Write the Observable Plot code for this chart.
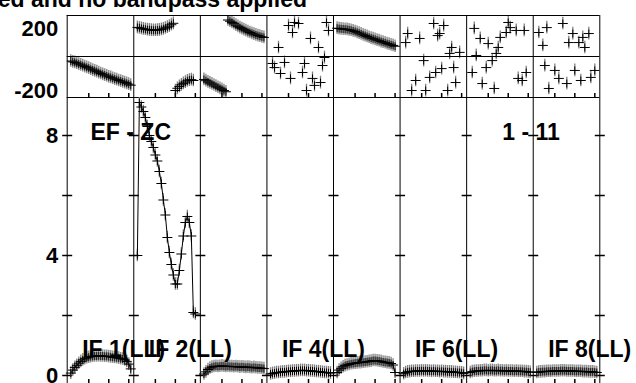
<!DOCTYPE html>
<html><head><meta charset="utf-8">
<script src="https://cdn.jsdelivr.net/npm/d3@7"></script>
<script src="https://cdn.jsdelivr.net/npm/@observablehq/plot@0.6"></script>
<style>
html,body{margin:0;padding:0;background:#fff;}
#chart{position:relative;width:636px;height:383px;overflow:hidden;font-family:"Liberation Sans",Arial,sans-serif;}
#title{position:absolute;right:329px;top:-12px;font-size:23px;font-weight:bold;line-height:22px;white-space:nowrap;color:#000;}
#chart svg{position:absolute;left:0;}
</style></head><body>
<div id="chart"><div id="title">Data calibrated and no bandpass applied</div></div>
<script>
// ---------- data ----------
const ifNumbers = [1, 2, 3, 4, 5, 6, 7, 8];
const labeledIFs = [1, 2, 4, 6, 8];
const baselineLabel = "EF - ZC";
const timeLabel = "1 - 11";
const phaseTickLabels = [200, -200];
const ampTickLabels = [8, 4, 0];
const ampMinorTicks = [0, 2, 4, 6, 8];
const chanTicks = [10, 20, 30];

// phase (degrees), dense panels: channel 1..n
const phase1 = [-22,-26,-29,-33,-37,-41,-45,-49,-53,-57,-62,-66,-70,-74,-79,-83,-87,-91,-95,-99,-102,-106,-110,-113,-117,-120,-124,-127,-131,-135,-140];
const phase2 = [142,140,137,135,133,131,130,129,128,128,129,130,132,135,139,143,148,155,162,-166,-155,-146,-138,-131,-125,-119,-115,-113,-117];
const phase3 = [-112,-118,-124,-129,-134,-139,-145,-150,-155,-160,-166,-172,178,172,166,160,153,147,141,136,131,126,121,117,113,109,105,102,99,96,93];
const phase5 = [138,136,135,134,133,132,130,128,125,122,118,114,110,106,102,98,94,90,87,84,80,77,73,70,67,63,60,57,54,50];
// phase, sparse panels: [channel, degrees]
const phase4 = [[2,-34],[3,-54],[5,44],[6,-83],[8,-29],[10,151],[11,-107],[12,117],[13,166],[15,161],[17,-78],[18,-34],[19,-166],[21,88],[22,-107],[23,-141],[25,44],[26,-127],[27,-44],[28,-5],[29,166],[30,127]];
const phase6 = [[2,68],[3,112],[5,-166],[7,-117],[9,88],[11,-20],[12,-166],[14,-102],[16,161],[17,-78],[18,102],[19,112],[20,-59],[21,151],[23,-166],[24,15],[25,44],[26,-54],[27,-127],[29,20]];
const phase7 = [[2,-78],[3,137],[4,5],[6,88],[7,-132],[9,-54],[10,63],[12,-20],[13,-156],[14,15],[15,44],[16,93],[19,117],[20,166],[21,141],[24,127],[25,-107],[27,-117],[28,127],[29,-78]];
const phase8 = [[2,117],[4,54],[5,-44],[6,141],[7,-156],[10,-68],[12,-107],[14,161],[16,-132],[17,68],[19,112],[20,-68],[22,68],[23,-117],[24,93],[25,44],[27,112],[28,-102],[30,-68]];

// amplitude, channel 1..n
const amp1 = [0.08,0.18,0.27,0.34,0.41,0.47,0.52,0.56,0.59,0.61,0.63,0.64,0.65,0.65,0.66,0.65,0.65,0.64,0.64,0.63,0.62,0.61,0.6,0.59,0.58,0.56,0.55,0.52,0.47,0.38,0.22];
const amp2 = [4.0,9.1,8.95,8.8,8.6,8.3,8.0,7.8,7.6,7.35,7.15,6.8,6.4,5.85,5.35,4.6,4.1,3.7,3.35,3.05,3.05,3.5,4.05,4.65,5.1,5.3,5.1,4.65,2.1,2.05];
const amp3 = [0.05,0.12,0.2,0.25,0.28,0.3,0.31,0.3,0.31,0.32,0.31,0.3,0.31,0.3,0.3,0.29,0.3,0.29,0.28,0.29,0.28,0.27,0.28,0.27,0.26,0.27,0.26,0.25,0.25,0.24,0.23];
const amp4 = [0.05,0.07,0.08,0.1,0.1,0.11,0.12,0.12,0.13,0.14,0.14,0.15,0.15,0.16,0.16,0.17,0.17,0.17,0.16,0.16,0.15,0.15,0.14,0.13,0.13,0.12,0.11,0.1,0.1,0.09,0.08];
const amp5 = [0.1,0.18,0.24,0.29,0.33,0.35,0.37,0.39,0.4,0.41,0.42,0.43,0.43,0.44,0.45,0.46,0.47,0.48,0.5,0.5,0.49,0.48,0.47,0.45,0.44,0.43,0.42,0.4,0.35,0.1];
const amp6 = [0.06,0.1,0.12,0.13,0.14,0.14,0.15,0.15,0.15,0.16,0.15,0.16,0.15,0.15,0.14,0.15,0.14,0.14,0.13,0.14,0.13,0.13,0.12,0.12,0.12,0.11,0.11,0.1,0.1,0.09,0.07];
const amp7 = [0.1,0.13,0.14,0.15,0.15,0.16,0.16,0.17,0.17,0.16,0.17,0.17,0.16,0.16,0.17,0.16,0.16,0.15,0.16,0.15,0.15,0.15,0.14,0.15,0.14,0.14,0.14,0.13,0.13,0.12,0.11];
const amp8 = [0.1,0.12,0.12,0.13,0.13,0.14,0.14,0.14,0.15,0.15,0.15,0.15,0.16,0.16,0.16,0.15,0.15,0.15,0.15,0.14,0.14,0.14,0.14,0.13,0.13,0.13,0.12,0.12,0.12,0.11,0.1];

// ---------- assemble ----------
const PANEL = 33.3;   // panel width in channel units
const CH_OFF = 0.8;
const gx = (n, ch) => (n - 1) * PANEL + CH_OFF + ch;

const denseRows = (n, arr) => arr.map((v, i) => ({if: n, ch: i + 1, v}));
const sparseRows = (n, arr) => arr.map(([ch, v]) => ({if: n, ch, v}));

const phasePts = [
  ...denseRows(1, phase1), ...denseRows(2, phase2), ...denseRows(3, phase3),
  ...sparseRows(4, phase4), ...denseRows(5, phase5), ...sparseRows(6, phase6),
  ...sparseRows(7, phase7), ...sparseRows(8, phase8)
];
const ampPts = [amp1, amp2, amp3, amp4, amp5, amp6, amp7, amp8].flatMap((a, i) => denseRows(i + 1, a));

const PH_ERR = 31, AMP_ERR = 0.21;
const boundaries = d3.range(0, 9).map(i => i * PANEL);
const chanTickX = ifNumbers.flatMap(n => chanTicks.map(c => gx(n, c)));
const ampTickGrid = boundaries.flatMap(b => ampMinorTicks.map(t => ({b, t})));

// custom symbols
const plusSym = {draw(ctx, size) { const r = Math.sqrt(size / Math.PI); ctx.moveTo(-r, 0); ctx.lineTo(r, 0); ctx.moveTo(0, -0.8 * r); ctx.lineTo(0, 0.8 * r); }};
const upTick = {draw(ctx, size) { const r = Math.sqrt(size / Math.PI); ctx.moveTo(0, 0); ctx.lineTo(0, -r); }};
const hTick = {draw(ctx, size) { const r = Math.sqrt(size / Math.PI); ctx.moveTo(-r, 0); ctx.lineTo(r, 0); }};

const W = 636, ML = 66.7, MR = 36.7;
const FONT = "Liberation Sans, Arial, Helvetica, sans-serif";
const baseStyle = {background: "transparent", overflow: "visible", fontFamily: FONT, color: "black"};
const xOpt = {domain: [0, 8 * PANEL], axis: null};

const phasePlot = Plot.plot({
  width: W, height: 100, marginTop: 15, marginBottom: 3, marginLeft: ML, marginRight: MR,
  x: xOpt, y: {domain: [-200, 200], axis: null},
  style: baseStyle,
  marks: [
    Plot.ruleX(phasePts, {x: d => gx(d.if, d.ch), y1: d => d.v - PH_ERR, y2: d => d.v + PH_ERR, stroke: "#808080", strokeWidth: 1.3, clip: true}),
    Plot.dot(phasePts, {x: d => gx(d.if, d.ch), y: "v", symbol: plusSym, r: 5, stroke: "black", fill: "none", strokeWidth: 1, clip: true}),
    Plot.ruleY([200, 0, -200], {stroke: "black", strokeWidth: 1}),
    Plot.ruleX(boundaries, {stroke: "black", strokeWidth: 1}),
    Plot.dot(chanTickX, {x: d => d, y: () => -200, symbol: upTick, r: 4.5, stroke: "black", fill: "none"}),
    Plot.text([String(phaseTickLabels[0])], {text: d => d, frameAnchor: "top-left", dx: -9, dy: 4.5, textAnchor: "end", fontSize: 22, fontWeight: "bold", fill: "black"}),
    Plot.text([String(phaseTickLabels[1])], {text: d => d, frameAnchor: "bottom-left", dx: -9, dy: 0, textAnchor: "end", fontSize: 22, fontWeight: "bold", fill: "black"})
  ]
});

const ampPlot = Plot.plot({
  width: W, height: 300, marginTop: 7, marginBottom: 6, marginLeft: ML, marginRight: MR,
  x: xOpt, y: {domain: [-0.3, 9.267], axis: null},
  style: baseStyle,
  marks: [
    Plot.ruleX(boundaries, {stroke: "black", strokeWidth: 1}),
    Plot.dot(ampTickGrid, {x: "b", y: "t", symbol: hTick, r: 5, stroke: "black", fill: "none"}),
    Plot.dot(chanTickX, {x: d => d, y: () => -0.3, symbol: upTick, r: 5.5, stroke: "black", fill: "none"}),
    Plot.ruleX(ampPts, {x: d => gx(d.if, d.ch), y1: d => d.v - AMP_ERR, y2: d => d.v + AMP_ERR, stroke: "#808080", strokeWidth: 1.3, clip: true}),
    Plot.line(ampPts, {x: d => gx(d.if, d.ch), y: "v", z: "if", stroke: "black", strokeWidth: 1}),
    Plot.dot(ampPts, {x: d => gx(d.if, d.ch), y: "v", symbol: plusSym, r: 5, stroke: "black", fill: "none", strokeWidth: 1}),
    Plot.text(ampTickLabels, {y: d => d, text: d => String(d), frameAnchor: "left", dx: -9, textAnchor: "end", fontSize: 22, fontWeight: "bold", fill: "black"}),
    Plot.text(labeledIFs, {x: n => (n - 1) * PANEL, text: n => `IF ${n}(LL)`, frameAnchor: "bottom", dx: 15, dy: -27.3, textAnchor: "start", fontSize: 23, fontWeight: "bold", fill: "black"}),
    Plot.text([baselineLabel], {text: d => d, frameAnchor: "top-left", dx: 23.3, dy: 26.6, textAnchor: "start", fontSize: 23, fontWeight: "bold", fill: "black"}),
    Plot.text([timeLabel], {text: d => d, frameAnchor: "top-right", dx: -40, dy: 26.6, textAnchor: "end", fontSize: 23, fontWeight: "bold", fill: "black"})
  ]
});

const chart = document.getElementById("chart");
phasePlot.style.top = "0px";
ampPlot.style.top = "90px";
chart.appendChild(phasePlot);
chart.appendChild(ampPlot);
</script>
</body></html>
